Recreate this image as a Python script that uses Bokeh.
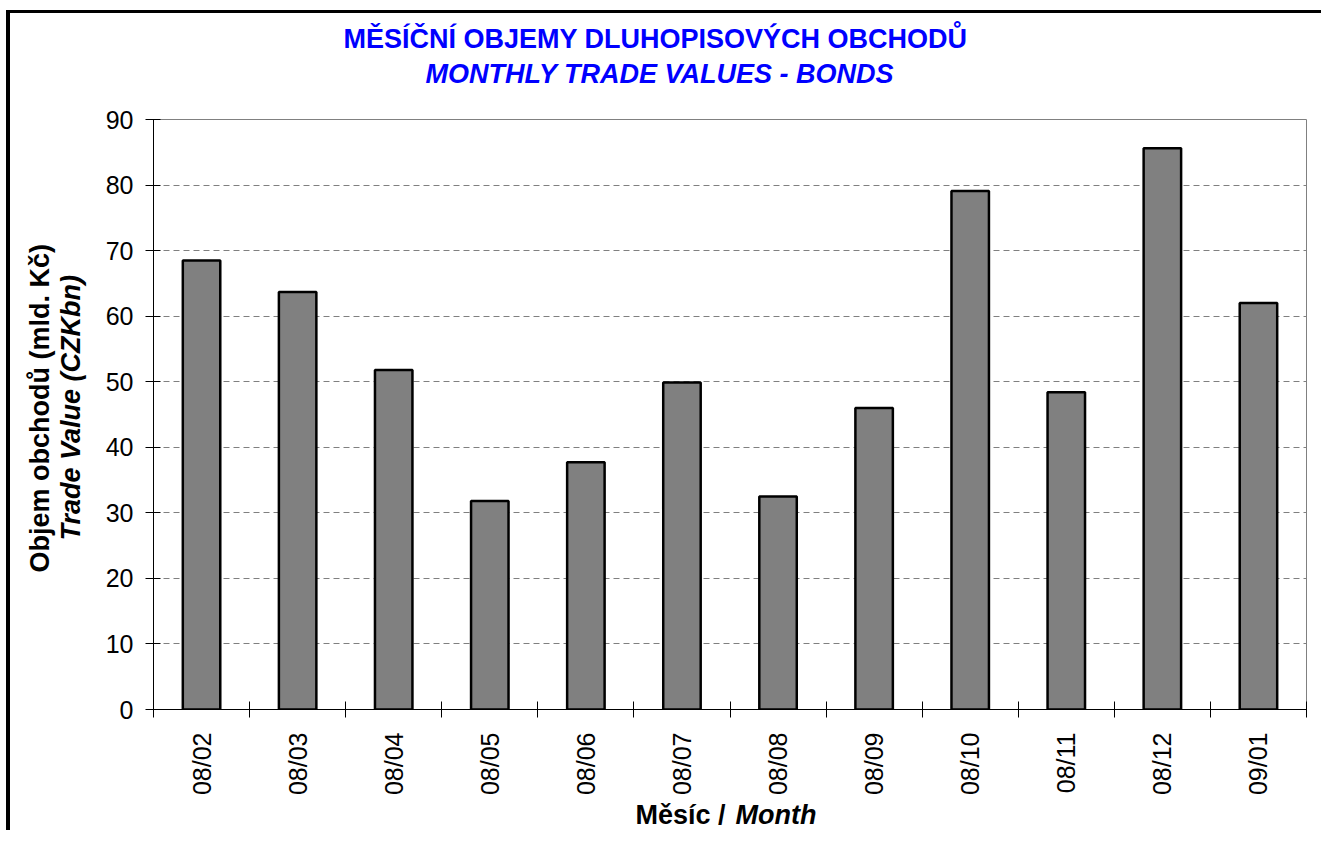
import math
from bokeh.plotting import figure
from bokeh.models import Range1d, FixedTicker, Title
from bokeh.embed import file_html
from bokeh.resources import INLINE

# ---- data ----
months = ["08/02", "08/03", "08/04", "08/05", "08/06", "08/07",
          "08/08", "08/09", "08/10", "08/11", "08/12", "09/01"]
values = [68.5, 63.7, 51.8, 31.8, 37.7, 49.9, 32.5, 46.0, 79.1, 48.4, 85.6, 62.0]
y_ticks = [0, 10, 20, 30, 40, 50, 60, 70, 80, 90]

title_cz = "MĚSÍČNÍ OBJEMY DLUHOPISOVÝCH OBCHODŮ"
title_en = "MONTHLY TRADE VALUES - BONDS"
ylabel_cz = "Objem obchodů (mld. Kč)"
ylabel_en = "Trade Value (CZKbn)"
xlabel_cz = "Měsíc /"
xlabel_en = "Month"

FONT = "Liberation Sans"

n = len(months)
xs = [i + 0.5 for i in range(n)]

p = figure(width=1315, height=820,
           x_range=Range1d(0, n), y_range=Range1d(0, 90),
           output_backend="svg", toolbar_location=None,
           min_border_left=143, min_border_right=19,
           min_border_top=106, min_border_bottom=124)
p.styles = {"border-left": "4px solid black", "border-top": "3px solid black",
            "margin-left": "6px", "margin-top": "10px"}

p.vbar(x=xs, top=values, bottom=0, width=0.39,
       fill_color="#808080", line_color="black", line_width=2.5)

# x axis: labels at category centres, ticks at category boundaries
xa = p.xaxis[0]
xa.ticker = FixedTicker(ticks=xs, minor_ticks=list(range(n + 1)))
xa.major_label_overrides = {x: m for x, m in zip(xs, months)}
xa.major_tick_line_color = None
xa.major_tick_in = 0
xa.major_tick_out = 0
xa.minor_tick_line_color = "black"
xa.minor_tick_in = 8
xa.minor_tick_out = 8
xa.major_label_orientation = math.pi / 2
xa.major_label_standoff = 15
xa.major_label_text_font = FONT
xa.major_label_text_font_size = "25px"
xa.major_label_text_color = "black"
xa.axis_line_color = "black"

ya = p.yaxis[0]
ya.ticker = FixedTicker(ticks=y_ticks, minor_ticks=[])
ya.major_tick_in = 7
ya.major_tick_out = 8
ya.major_tick_line_color = "black"
ya.minor_tick_line_color = None
ya.major_label_standoff = 12
ya.major_label_text_font = FONT
ya.major_label_text_font_size = "25px"
ya.major_label_text_color = "black"
ya.axis_line_color = "black"

p.xgrid.visible = False
p.ygrid.grid_line_color = "#808080"
p.ygrid.grid_line_dash = "6 4"
p.ygrid.grid_line_width = 1

p.outline_line_color = "#808080"
p.background_fill_color = "white"
p.border_fill_color = "white"


def make_title(text, style, color, offset, standoff, valign="bottom"):
    return Title(text=text, text_font=FONT, text_font_size="27px",
                 text_font_style=style, text_color=color, align="left",
                 offset=offset, standoff=standoff, vertical_align=valign)


# titles above the frame (p.title is the outermost line)
p.title.text = title_cz
p.title.text_font = FONT
p.title.text_font_size = "27px"
p.title.text_font_style = "bold"
p.title.text_color = "#0000FF"
p.title.align = "left"
p.title.offset = 190
p.title.standoff = -56
p.title.vertical_align = "bottom"
p.add_layout(make_title(title_en, "bold italic", "#0000FF", 272, 62), "above")

# y-axis titles (left): first added is nearest the axis
p.add_layout(make_title(ylabel_en, "bold italic", "black", 169, 33), "left")
p.add_layout(make_title(ylabel_cz, "bold", "black", 137, -34), "left")

# x-axis title (below): two parts on one line
p.add_layout(make_title(xlabel_cz, "bold", "black", 482, -2), "below")
p.add_layout(make_title(xlabel_en, "bold italic", "black", 582, -58, "top"), "below")

open("out.html", "w").write(file_html(p, INLINE))
